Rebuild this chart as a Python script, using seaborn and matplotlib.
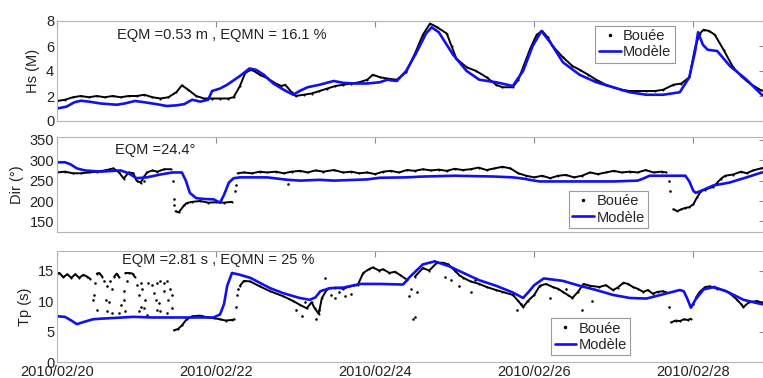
import numpy as np
import pandas as pd
import matplotlib
matplotlib.use("Agg")
import matplotlib.pyplot as plt
import matplotlib.dates as mdates
from matplotlib.lines import Line2D
import seaborn as sns

N = np.nan
START = pd.Timestamp("2010-02-20")

# ---------------- Hs ----------------
hs_buoy_day = [0.0,0.1,0.2,0.3,0.4,0.5,0.6,0.7,0.8,0.9,1.0,1.1,1.2,1.3,1.4,1.5,
               1.57,1.65,1.75,1.85,1.95,2.05,2.15,2.22,
               2.3,2.37,2.45,2.55,2.65,2.75,2.82,2.87,2.95,
               3.0,3.1,3.2,3.3,3.4,3.5,3.6,3.7,3.8,3.9,3.97,
               4.06,4.15,4.27,4.39,4.5,4.6,4.69,4.78,4.9,4.96,
               5.02,5.15,5.27,5.4,5.52,5.6,5.73,5.8,5.86,5.95,
               6.03,6.1,6.17,6.23,6.36,6.48,6.57,6.68,6.78,6.9,6.99,
               7.1,7.2,7.3,7.41,7.52,7.62,7.75,7.85,7.95,
               8.02,8.08,8.13,8.2,8.27,8.38,8.5,8.6,8.67,8.76,8.84,8.92]
hs_buoy = [1.6,1.7,1.9,2.0,1.9,2.0,1.9,2.0,1.9,2.0,2.0,2.1,1.9,1.8,1.9,2.3,
           2.85,2.5,2.0,1.8,1.8,1.8,1.8,1.9,
           2.8,3.9,4.1,3.7,3.4,3.0,2.8,2.9,2.3,
           2.0,2.1,2.2,2.4,2.6,2.8,2.9,3.0,3.1,3.3,3.7,
           3.5,3.4,3.3,3.9,5.4,6.9,7.8,7.5,7.0,6.0,
           5.0,4.3,4.0,3.5,2.9,2.7,2.7,3.3,4.3,5.8,
           6.9,7.2,6.7,6.0,5.1,4.4,4.1,3.7,3.3,2.9,2.7,
           2.5,2.4,2.4,2.4,2.4,2.5,2.9,3.0,3.5,
           5.8,7.0,7.3,7.2,6.9,5.7,4.3,3.6,3.2,2.8,2.5,2.3]
hs_model_day = [0.0,0.12,0.22,0.3,0.4,0.55,0.75,0.85,0.98,1.1,
                1.25,1.38,1.5,1.6,1.7,1.8,1.9,1.95,2.05,2.14,
                2.3,2.42,2.5,2.6,2.72,2.85,2.97,3.05,3.15,3.3,
                3.48,3.6,3.75,3.9,4.06,4.15,4.27,4.39,4.52,4.64,
                4.71,4.8,4.98,5.15,5.31,5.52,5.73,5.86,5.98,6.09,
                6.2,6.36,6.57,6.78,6.99,7.2,7.41,7.62,7.83,7.95,
                8.02,8.06,8.12,8.18,8.3,8.46,8.67,8.86,8.95]
hs_model = [1.0,1.15,1.5,1.62,1.55,1.4,1.3,1.4,1.6,1.5,
            1.35,1.2,1.25,1.35,1.7,1.55,1.7,2.4,2.6,2.9,
            3.6,4.2,4.1,3.7,3.0,2.5,2.1,2.4,2.7,2.9,
            3.2,3.05,3.0,3.0,3.1,3.3,3.2,4.0,5.5,7.0,
            7.5,7.1,5.3,4.0,3.3,3.1,2.8,4.0,6.0,7.2,
            6.3,4.7,3.7,3.1,2.7,2.3,2.1,2.1,2.3,3.5,
            5.5,7.1,6.1,5.7,5.6,4.4,3.3,2.1,1.9]

# ---------------- Dir ----------------
dir_buoy_day = [0.0,0.1,0.2,0.3,0.4,0.5,0.6,
                0.71,0.78,0.84,0.9,0.96,1.0,1.05,1.13,1.2,1.26,
                1.35,1.43,1.45,
                1.49,1.53,1.6,1.63,1.7,1.8,1.9,2.0,2.1,2.2,2.23,
                2.27,2.35,2.45,2.55,2.64,2.75,2.85,2.95,3.06,3.15,
                3.25,3.35,3.48,3.6,3.7,3.8,3.9,
                4.0,4.1,4.2,4.3,4.4,4.5,4.6,4.7,4.8,4.9,
                5.0,5.1,5.2,5.3,5.4,5.5,5.6,5.7,5.8,5.9,
                6.0,6.1,6.2,6.3,6.4,6.5,6.6,6.7,6.8,6.9,
                7.0,7.1,7.2,7.3,7.4,7.5,7.6,7.66,7.7,
                7.75,7.8,7.85,7.9,7.95,8.0,8.05,8.1,8.15,
                8.25,8.3,8.35,8.4,8.5,8.6,8.67,8.75,8.85,8.92]
dir_buoy = [270,272,268,268,270,272,275,
            280,270,255,270,268,250,245,270,275,272,
            278,278,N,
            175,172,190,195,198,200,196,197,196,198,N,
            268,270,268,272,270,272,268,272,274,270,
            275,272,276,270,272,268,270,
            266,272,274,270,276,274,278,275,277,274,
            279,276,278,282,276,280,284,280,268,262,
            258,262,256,262,264,258,262,270,266,270,
            274,270,272,270,276,270,272,270,N,
            180,175,180,183,185,192,210,225,228,
            235,245,255,262,265,272,268,275,280,282]
dir_scatter_day = [1.46,1.47,1.475,2.24,2.245,7.7,7.71,1.09,1.1,2.91]
dir_scatter = [248,205,190,225,240,250,225,262,248,241]
dir_model_day = [0.0,0.1,0.17,0.25,0.35,0.55,0.8,0.9,1.0,1.13,
                 1.3,1.45,1.57,1.62,1.67,1.75,1.85,1.97,2.05,2.1,
                 2.16,2.22,2.3,2.64,2.9,3.06,3.3,3.48,3.9,4.06,
                 4.39,4.6,5.0,5.5,5.73,5.86,6.0,6.07,6.5,7.0,
                 7.3,7.37,7.45,7.9,7.95,8.0,8.03,8.1,8.25,8.45,
                 8.67,8.86,8.95]
dir_model = [295,295,290,280,275,272,275,268,256,258,
             265,270,270,250,220,207,205,204,196,215,
             245,256,258,258,252,250,252,250,253,257,
             258,260,262,260,258,255,250,248,248,248,
             250,255,262,262,248,225,220,225,238,245,
             258,270,272]

# ---------------- Tp ----------------
tp_buoy_day = [0.0,0.03,0.08,0.13,0.18,0.23,0.28,0.33,0.38,0.42,0.45,
               0.5,0.53,0.57,0.6,
               0.72,0.75,0.78,0.8,
               0.86,0.9,0.95,0.98,1.0,
               1.47,1.52,1.57,1.63,1.7,1.8,1.9,1.97,2.05,2.12,2.2,2.23,2.26,
               2.3,2.35,2.43,2.55,2.68,2.84,2.97,3.05,3.14,3.2,
               3.24,3.29,3.33,3.4,3.5,3.6,3.68,3.78,3.85,3.92,
               3.97,4.05,4.1,4.18,4.25,4.31,4.4,4.45,
               4.5,4.6,4.68,4.77,4.85,4.92,5.0,5.06,5.11,5.2,
               5.31,5.4,5.52,5.6,5.73,5.8,5.86,5.92,6.0,6.07,
               6.15,6.23,6.3,6.36,6.42,6.48,6.55,6.62,6.7,6.82,
               6.9,6.99,7.05,7.12,7.18,7.24,7.3,7.37,7.43,7.49,
               7.55,7.62,7.66,7.69,
               7.72,7.78,7.83,7.88,7.93,7.97,8.0,
               8.03,8.08,8.15,8.21,8.3,8.38,8.43,8.5,8.55,8.6,
               8.63,8.7,8.8,8.92]
tp_buoy = [14.5,14.6,13.9,14.4,13.8,14.4,13.8,14.3,14.0,13.6,N,
           14.5,14.6,14.0,N,
           14.0,14.5,13.9,N,
           14.6,14.6,14.5,13.9,N,
           5.2,5.4,6.0,7.0,7.5,7.6,7.3,7.2,7.0,6.8,6.9,7.0,N,
           12.5,13.3,13.2,12.4,11.6,10.8,10.0,9.4,8.8,9.8,
           8.8,7.9,10.5,12.0,12.2,12.0,12.4,12.6,14.6,15.2,
           15.5,15.0,15.2,14.6,14.8,14.3,13.5,N,
           14.0,15.4,15.0,16.2,16.3,16.0,15.0,14.2,13.8,13.2,
           12.8,12.3,11.8,11.5,11.0,10.0,9.0,10.0,11.0,12.5,
           12.8,12.3,12.0,11.5,11.0,10.5,11.5,12.8,12.5,12.3,
           12.6,11.8,12.2,13.0,12.8,12.3,12.0,11.5,11.8,11.2,
           11.5,11.6,11.4,N,
           6.5,6.8,6.7,7.0,6.9,7.1,N,
           10.5,11.5,12.3,12.4,12.0,11.8,11.5,10.8,10.2,9.5,
           9.0,9.8,10.0,9.5]
tp_scatter_day = [0.48,0.46,0.45,0.50,0.59,0.63,0.61,0.65,0.67,0.69,
                  0.63,0.69,0.78,0.80,0.84,0.84,0.86,0.88,1.01,1.05,
                  1.07,1.03,1.05,1.03,1.09,1.11,1.13,1.15,1.19,1.22,
                  1.24,1.26,1.30,1.34,1.38,1.34,1.28,1.26,1.42,1.45,
                  1.40,1.38,1.45,1.30,
                  2.25,2.26,2.27,
                  3.0,3.08,3.12,3.25,3.3,3.37,3.45,3.5,3.55,3.62,3.7,
                  4.42,4.45,4.47,4.5,4.52,
                  4.88,4.95,5.05,5.2,5.25,
                  5.78,5.83,
                  6.2,6.4,6.6,6.72,
                  7.69,8.0]
tp_scatter = [13.0,11.0,10.2,8.5,13.2,12.4,10.2,9.9,13.2,11.9,
              8.3,8.0,8.0,9.4,11.6,10.2,8.3,13.2,12.7,13.0,
              11.9,11.0,9.1,8.3,8.8,10.2,7.7,13.0,12.7,11.3,
              10.2,13.0,13.2,13.0,13.2,11.6,9.6,8.5,11.9,11.0,
              10.2,8.0,8.8,8.3,
              9.0,11.0,12.0,
              8.5,7.5,9.8,7.0,8.5,13.8,11.0,10.5,11.5,10.8,11.2,
              10.8,12.0,7.0,7.3,11.5,
              14.0,13.5,12.5,11.5,13.5,
              8.5,9.5,
              10.5,12.0,8.5,10.0,
              9.0,9.5]
tp_model_day = [0.0,0.1,0.18,0.25,0.32,0.45,0.55,0.96,1.2,1.5,
                1.8,1.97,2.05,2.1,2.14,2.2,2.3,2.43,2.68,2.84,
                3.05,3.18,3.25,3.31,3.43,3.6,3.81,4.06,4.35,4.44,
                4.6,4.75,4.93,5.11,5.31,5.52,5.73,5.86,5.93,6.0,
                6.12,6.36,6.57,6.78,6.99,7.2,7.41,7.62,7.83,7.88,
                7.92,7.97,8.03,8.13,8.26,8.43,8.63,8.82,8.95]
tp_model = [7.5,7.4,6.8,6.2,6.5,7.0,7.1,7.4,7.3,7.3,
            7.3,7.3,7.8,9.5,12.5,14.6,14.3,13.8,12.1,11.3,
            10.5,10.2,10.6,11.6,12.1,12.2,12.8,12.8,12.7,14.0,
            16.0,16.5,15.7,14.6,13.4,12.5,11.4,10.5,11.5,12.6,
            13.7,13.3,12.5,11.8,11.0,10.5,10.4,11.1,11.8,11.6,
            10.5,8.9,10.3,11.9,12.3,11.5,10.2,9.6,9.3]

y_labels = ["Hs (M)", "Dir (°)", "Tp (s)"]
stats_text = ["EQM =0.53 m , EQMN = 16.1 %", "EQM =24.4°", "EQM =2.81 s , EQMN = 25 %"]
legend_labels = ["Bouée", "Modèle"]
x_tick_days = [20, 22, 24, 26, 28]


def to_time(days):
    return START + pd.to_timedelta(np.asarray(days, dtype=float), unit="D")


def buoy_frame(days, vals):
    v = np.asarray(vals, dtype=float)
    df = pd.DataFrame({"t": to_time(days), "v": v, "seg": np.cumsum(np.isnan(v))})
    return df.dropna()


sns.set_theme(style="white")
plt.rcParams["font.family"] = ["Liberation Sans", "DejaVu Sans"]
plt.rcParams["font.size"] = 10.5

BLUE = "#1010f0"
fig = plt.figure(figsize=(7.63, 3.78), dpi=100)
W = 708 / 763
boxes = [
    [57 / 763, 1 - 121 / 378, W, 100 / 378],
    [57 / 763, 1 - 232 / 378, W, 95 / 378],
    [57 / 763, 1 - 362 / 378, W, 111 / 378],
]
axes = [fig.add_axes(b) for b in boxes]

panels = [
    (hs_buoy_day, hs_buoy, None, None, hs_model_day, hs_model),
    (dir_buoy_day, dir_buoy, dir_scatter_day, dir_scatter, dir_model_day, dir_model),
    (tp_buoy_day, tp_buoy, tp_scatter_day, tp_scatter, tp_model_day, tp_model),
]
ylims = [(0, 8), (124, 357), (0, 18.2)]
yticks = [[0, 2, 4, 6, 8], [150, 200, 250, 300, 350], [0, 5, 10, 15]]
text_pos = [(0.085, 0.86), (0.082, 0.86), (0.092, 0.92)]
leg_anchor = [((0.873, 0.955), "upper right"), ((0.835, 0.04), "lower right"),
              ((0.81, 0.06), "lower right")]

for i, ax in enumerate(axes):
    bd, bv, sd, sv, md, mv = panels[i]
    df = buoy_frame(bd, bv)
    sns.lineplot(data=df, x="t", y="v", units="seg", estimator=None, color="black",
                 lw=1.4, marker=".", markersize=3, markeredgewidth=0, ax=ax, legend=False)
    if sd is not None:
        sns.scatterplot(x=to_time(sd), y=sv, color="black", s=3.5, linewidth=0, ax=ax, legend=False)
    sns.lineplot(x=to_time(md), y=mv, color=BLUE, lw=1.9, ax=ax, legend=False)

    ax.set_xlim(START, START + pd.Timedelta(days=708 / 79.54))
    ax.set_ylim(*ylims[i])
    ax.set_yticks(yticks[i])
    ax.xaxis.set_major_locator(mdates.DayLocator(bymonthday=x_tick_days))
    ax.xaxis.set_major_formatter(mdates.DateFormatter("%Y/%m/%d"))
    ax.tick_params(direction="in", top=True, right=True, length=4, width=0.8,
                   color="#8a8a8a", labelsize=10.5, labelcolor="#222222", pad=2)
    for s in ax.spines.values():
        s.set_color("#b5b5b5")
        s.set_linewidth(0.8)
    ax.set_xlabel("")
    ax.set_ylabel(y_labels[i], fontsize=10.5, color="#222222", labelpad=4)
    if i < 2:
        ax.tick_params(labelbottom=False)
    ax.text(text_pos[i][0], text_pos[i][1], stats_text[i], transform=ax.transAxes,
            fontsize=10.5, color="#222222", va="center", ha="left")
    handles = [Line2D([], [], marker=".", ls="none", color="black", markersize=3),
               Line2D([], [], color=BLUE, lw=1.9)]
    leg = ax.legend(handles, legend_labels, loc=leg_anchor[i][1], bbox_to_anchor=leg_anchor[i][0],
                    fontsize=10.5, frameon=True, fancybox=False, framealpha=1, edgecolor="#9a9a9a",
                    borderpad=0.25, labelspacing=0.15, handlelength=1.5, handletextpad=0.15,
                    borderaxespad=0.0)
    leg.get_frame().set_linewidth(0.8)

fig.savefig("out.png", dpi=100)
